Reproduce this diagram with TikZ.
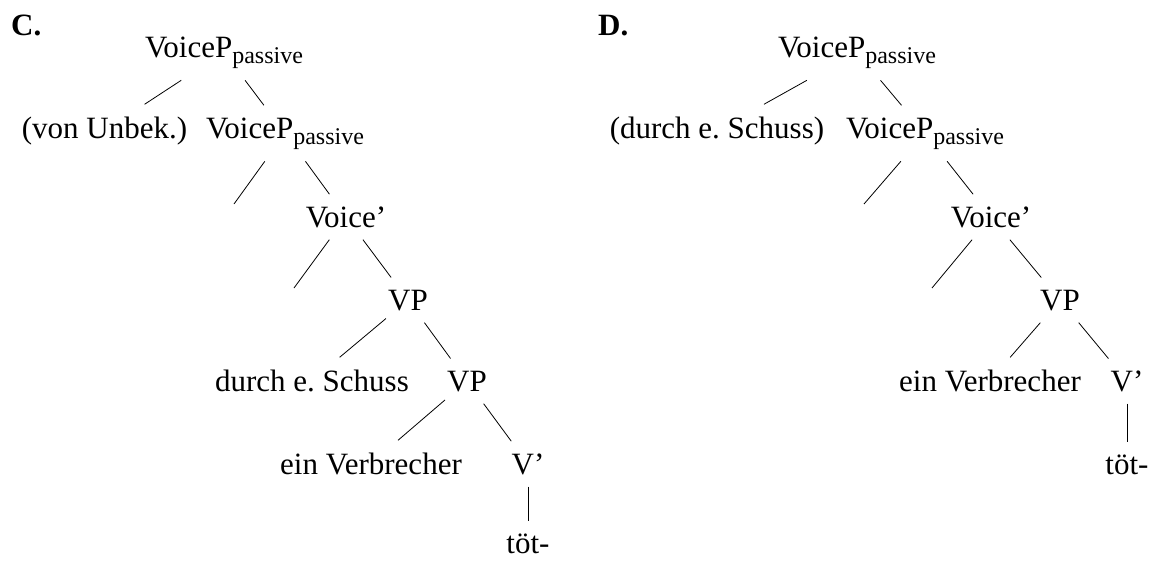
\documentclass[tikz,border=0pt]{standalone}
\usepackage{fontspec}
\setmainfont{Liberation Serif}
\frenchspacing
\newcommand{\subpas}[1]{\raisebox{-6pt}{\fontsize{24}{24}\selectfont #1}}
\begin{document}
\begin{tikzpicture}[x=1pt,y=-1pt,
  tn/.style={inner xsep=2pt, inner ysep=12pt, anchor=base, font=\fontsize{31}{37}\selectfont},
  lbl/.style={inner sep=0pt, anchor=base west, font=\fontsize{31}{37}\selectfont\bfseries},
  edge/.style={line width=0.8pt}]
\useasboundingbox (0,0) rectangle (1151,560);
% ---- Tree C ----
\node[lbl] (lc) at (11,35) {C.};
\node[tn] (c1) at (224,57) {VoiceP\subpas{passive}};
\node[tn] (c2a) at (104.5,138) {(von Unbek.)};
\node[tn] (c2) at (285,138) {VoiceP\subpas{passive}};
\coordinate (c3a) at (234,204);
\node[tn] (c3) at (346,227) {Voice’};
\coordinate (c4a) at (294,288);
\node[tn] (c4) at (408,310) {VP};
\node[tn] (c5a) at (312,391) {durch e.\ Schuss};
\node[tn] (c5) at (467,391) {VP};
\node[tn] (c6a) at (371,474) {ein Verbrecher};
\node[tn] (c6) at (528,474) {V’};
\node[tn] (c7) at (528,553) {töt-};
\draw[edge] (c1) -- (c2a);
\draw[edge] (c1) -- (c2);
\draw[edge] (c2) -- (c3a);
\draw[edge] (c2) -- (c3);
\draw[edge] (c3) -- (c4a);
\draw[edge] (c3) -- (c4);
\draw[edge] (c4) -- (c5a);
\draw[edge] (c4) -- (c5);
\draw[edge] (c5) -- (c6a);
\draw[edge] (c5) -- (c6);
\draw[edge] (c6) -- (c7);
% ---- Tree D ----
\node[lbl] (ld) at (598,35) {D.};
\node[tn] (d1) at (857,57) {VoiceP\subpas{passive}};
\node[tn] (d2a) at (717,138) {(durch e.\ Schuss)};
\node[tn] (d2) at (925,138) {VoiceP\subpas{passive}};
\coordinate (d3a) at (864,204);
\node[tn] (d3) at (991,227) {Voice’};
\coordinate (d4a) at (932,288);
\node[tn] (d4) at (1060,310) {VP};
\node[tn] (d5a) at (990,391) {ein Verbrecher};
\node[tn] (d5) at (1127,391) {V’};
\node[tn] (d6) at (1127,474) {töt-};
\draw[edge] (d1) -- (d2a);
\draw[edge] (d1) -- (d2);
\draw[edge] (d2) -- (d3a);
\draw[edge] (d2) -- (d3);
\draw[edge] (d3) -- (d4a);
\draw[edge] (d3) -- (d4);
\draw[edge] (d4) -- (d5a);
\draw[edge] (d4) -- (d5);
\draw[edge] (d5) -- (d6);
\end{tikzpicture}
\end{document}
